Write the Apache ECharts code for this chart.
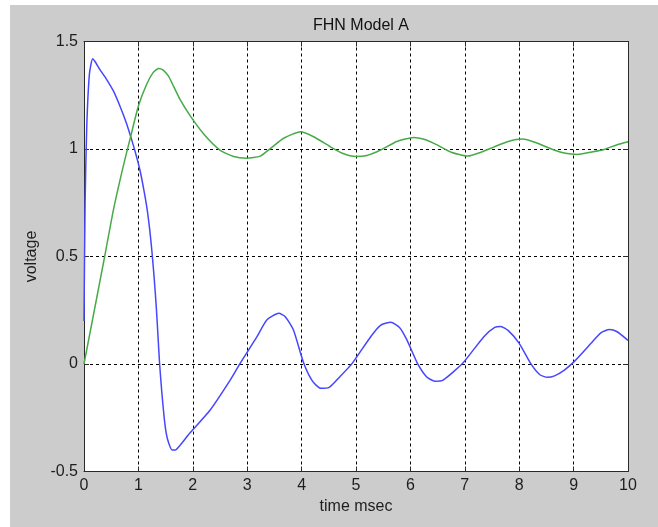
<!DOCTYPE html>
<html>
<head>
<meta charset="utf-8">
<script src="https://cdn.jsdelivr.net/npm/echarts@6/dist/echarts.min.js"></script>
<style>
  html, body { margin: 0; padding: 0; background: #ffffff; }
  #chart { position: absolute; left: 10px; top: 5px; width: 648px; height: 522px; background: #cccccc; }
</style>
</head>
<body>
<div id="chart"></div>
<script>
// FitzHugh-Nagumo simulation traces: membrane voltage v (blue) and recovery w (green)
var vTime = [0, 0.02, 0.05, 0.1, 0.16, 0.22, 0.29, 0.4, 0.54, 0.66, 0.78, 0.88, 0.96, 1.03, 1.1, 1.16, 1.21, 1.25, 1.29, 1.33, 1.36, 1.39, 1.43, 1.47, 1.51, 1.56, 1.62, 1.68, 1.76, 1.95, 2.32, 2.69, 2.87, 3.18, 3.36, 3.58, 3.7, 3.85, 4.04, 4.2, 4.35, 4.5, 4.7, 4.93, 5.27, 5.45, 5.64, 5.8, 5.94, 6.13, 6.3, 6.45, 6.6, 6.96, 7.35, 7.55, 7.66, 7.8, 8.0, 8.21, 8.38, 8.52, 8.65, 8.83, 9.01, 9.32, 9.5, 9.66, 9.8, 10.0];
var vValues = [0.2, 0.75, 1.1, 1.35, 1.42, 1.40, 1.37, 1.33, 1.27, 1.2, 1.12, 1.04, 0.97, 0.9, 0.81, 0.72, 0.62, 0.52, 0.4, 0.26, 0.13, 0.0, -0.13, -0.24, -0.32, -0.37, -0.40, -0.40, -0.38, -0.32, -0.214, -0.074, 0.003, 0.127, 0.205, 0.236, 0.22, 0.158, 0.003, -0.08, -0.113, -0.11, -0.06, 0.003, 0.127, 0.18, 0.194, 0.17, 0.11, 0.003, -0.06, -0.08, -0.075, 0.003, 0.127, 0.17, 0.174, 0.155, 0.096, 0.003, -0.05, -0.062, -0.055, -0.028, 0.011, 0.096, 0.145, 0.161, 0.15, 0.11];

var wTime = [0, 0.19, 0.38, 0.54, 0.72, 0.85, 1.0, 1.15, 1.27, 1.37, 1.45, 1.55, 1.65, 1.77, 1.95, 2.2, 2.5, 2.75, 2.99, 3.24, 3.43, 3.67, 3.98, 4.22, 4.53, 4.75, 5.0, 5.2, 5.45, 5.75, 6.06, 6.25, 6.49, 6.75, 7.05, 7.3, 7.54, 7.8, 8.06, 8.3, 8.64, 8.85, 9.07, 9.3, 9.56, 9.8, 10.0];
var wValues = [0, 0.25, 0.5, 0.716, 0.918, 1.05, 1.2, 1.3, 1.355, 1.375, 1.368, 1.34, 1.29, 1.228, 1.155, 1.07, 0.995, 0.965, 0.957, 0.967, 1.003, 1.05, 1.08, 1.057, 1.01, 0.98, 0.965, 0.97, 0.995, 1.035, 1.054, 1.045, 1.019, 0.985, 0.967, 0.985, 1.01, 1.035, 1.046, 1.03, 0.995, 0.98, 0.975, 0.985, 0.998, 1.02, 1.034];

var xTicks = [0, 1, 2, 3, 4, 5, 6, 7, 8, 9, 10];
var yTicks = [-0.5, 0, 0.5, 1, 1.5];

var titleText = 'FHN Model A';
var xLabel = 'time msec';
var yLabel = 'voltage';

function pairs(ts, vs) {
  return ts.map(function (t, i) { return [t, vs[i]]; });
}

var FONT = '"Liberation Sans", Arial, sans-serif';
var INK = '#1e1e1e';
var axisLineStyle = { color: '#2a2a2a', width: 1 };
var gridDash = { color: '#000000', width: 1, type: [3, 3] };

var chart = echarts.init(document.getElementById('chart'), null, { renderer: 'canvas' });

chart.setOption({
  animation: false,
  backgroundColor: '#cccccc',
  title: {
    text: titleText,
    left: 346,
    top: 8,
    textAlign: 'center',
    textStyle: { fontFamily: FONT, fontSize: 16, fontWeight: 'normal', color: '#111111' }
  },
  grid: {
    left: 74, right: 30, top: 36.5, bottom: 55.5,
    show: true, backgroundColor: '#ffffff', borderWidth: 0
  },
  xAxis: [{
    type: 'value', min: xTicks[0], max: xTicks[xTicks.length - 1], interval: 1,
    position: 'bottom',
    name: xLabel, nameLocation: 'middle', nameGap: 27,
    nameTextStyle: { fontFamily: FONT, fontSize: 16, color: INK },
    axisLine: { show: true, onZero: false, lineStyle: axisLineStyle },
    axisTick: { show: true, inside: true, length: 5, lineStyle: axisLineStyle },
    axisLabel: { margin: 6, fontFamily: FONT, fontSize: 16, color: INK },
    splitLine: { show: true, lineStyle: gridDash }
  }, {
    type: 'value', min: xTicks[0], max: xTicks[xTicks.length - 1], interval: 1,
    position: 'top',
    axisLine: { show: true, onZero: false, lineStyle: axisLineStyle },
    axisTick: { show: true, inside: true, length: 5, lineStyle: axisLineStyle },
    axisLabel: { show: false },
    splitLine: { show: false }
  }],
  yAxis: [{
    type: 'value', min: yTicks[0], max: yTicks[yTicks.length - 1], interval: 0.5,
    position: 'left',
    name: yLabel, nameLocation: 'middle', nameGap: 44, nameRotate: 90,
    nameTextStyle: { fontFamily: FONT, fontSize: 16, color: INK },
    axisLine: { show: true, onZero: false, lineStyle: axisLineStyle },
    axisTick: { show: true, inside: true, length: 5, lineStyle: axisLineStyle },
    axisLabel: { margin: 6, fontFamily: FONT, fontSize: 16, color: INK },
    splitLine: { show: true, lineStyle: gridDash }
  }, {
    type: 'value', min: yTicks[0], max: yTicks[yTicks.length - 1], interval: 0.5,
    position: 'right',
    axisLine: { show: true, onZero: false, lineStyle: axisLineStyle },
    axisTick: { show: true, inside: true, length: 5, lineStyle: axisLineStyle },
    axisLabel: { show: false },
    splitLine: { show: false }
  }],
  series: [{
    name: 'v',
    type: 'line',
    xAxisIndex: 0, yAxisIndex: 0,
    data: pairs(vTime, vValues),
    showSymbol: false,
    smooth: 0.2,
    lineStyle: { color: '#4646ff', width: 1.5 },
    z: 3
  }, {
    name: 'w',
    type: 'line',
    xAxisIndex: 0, yAxisIndex: 0,
    data: pairs(wTime, wValues),
    showSymbol: false,
    smooth: 0.2,
    lineStyle: { color: '#46aa46', width: 1.5 },
    z: 3
  }]
});
</script>
</body>
</html>
